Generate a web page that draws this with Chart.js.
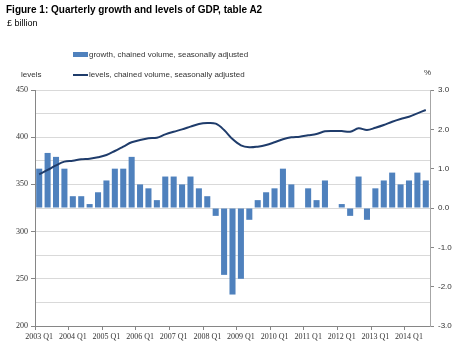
<!DOCTYPE html>
<html>
<head>
<meta charset="utf-8">
<script src="https://cdn.jsdelivr.net/npm/chart.js@4.4.1/dist/chart.umd.min.js"></script>
<style>
  body { margin: 0; background: #fff; }
  #wrap { position: relative; width: 460px; height: 353px; font-family: 'Liberation Sans', Arial, sans-serif; }
  #wrap canvas { position: absolute; left: 0; top: 0; }
  .txt { position: absolute; white-space: nowrap; color: #333; }
  .title { left: 6px; top: 4px; font-size: 10px; font-weight: bold; color: #000; line-height: 12px; }
  .unit { left: 7px; top: 18px; font-size: 9px; color: #000; line-height: 11px; }
  .leg { font-size: 8px; line-height: 10px; }
  .sw { position: absolute; }
</style>
</head>
<body>
<div id="wrap">
  <canvas id="gdpChart" width="460" height="353"></canvas>
  <div class="txt title">Figure 1: Quarterly growth and levels of GDP, table A2</div>
  <div class="txt unit">£ billion</div>
  <div class="sw" style="left:73px;top:52px;width:15px;height:5px;background:#4f81bd"></div>
  <div class="txt leg" style="left:89px;top:50px">growth, chained volume, seasonally adjusted</div>
  <div class="sw" style="left:73px;top:74px;width:15px;height:2px;background:#1f3c6b"></div>
  <div class="txt leg" style="left:89px;top:70px">levels, chained volume, seasonally adjusted</div>
  <div class="txt leg" style="left:21px;top:70px">levels</div>
  <div class="txt leg" style="left:424px;top:68px">%</div>
</div>
<script>
// categories: 2003 Q1 .. 2014 Q3
const years = [2003, 2004, 2005, 2006, 2007, 2008, 2009, 2010, 2011, 2012, 2013, 2014];
const quarters = ['Q1', 'Q2', 'Q3', 'Q4'];
const nQuarters = 47;

const labels = [];
years.forEach(y => quarters.forEach(q => labels.push(y + ' ' + q)));
labels.length = nQuarters;

// quarter on quarter growth, % (right axis)
const growth = [
  1.0, 1.4, 1.3, 1.0,
  0.3, 0.3, 0.1, 0.4,
  0.7, 1.0, 1.0, 1.3,
  0.6, 0.5, 0.2, 0.8,
  0.8, 0.6, 0.8, 0.5,
  0.3, -0.2, -1.7, -2.2,
  -1.8, -0.3, 0.2, 0.4,
  0.5, 1.0, 0.6, 0.0,
  0.5, 0.2, 0.7, 0.0,
  0.1, -0.2, 0.8, -0.3,
  0.5, 0.7, 0.9, 0.6,
  0.7, 0.9, 0.7
];

// levels, £ billion (left axis)
const levels = [
  360.7, 365.3, 370.2, 374.1,
  375.1, 376.6, 377.2, 378.7,
  381.1, 385.4, 390.0, 394.6,
  397.0, 398.8, 399.5, 403.0,
  405.8, 408.3, 411.2, 414.0,
  415.0, 414.3, 407.6, 398.0,
  391.4, 389.3, 390.0, 391.7,
  394.6, 397.8, 399.9, 400.6,
  402.0, 403.4, 406.2, 406.6,
  406.6, 405.8, 409.4, 407.6,
  410.0, 412.9, 416.4, 419.3,
  421.7, 425.3, 428.8
];

const leftTicks = [200, 250, 300, 350, 400, 450];
const rightTicks = [-3, -2, -1, 0, 1, 2, 3];

const axisGrey = '#868686';
const serif = { family: 'Liberation Serif', size: 8 };

const ctx = document.getElementById('gdpChart').getContext('2d');
new Chart(ctx, {
  data: {
    labels: labels,
    datasets: [
      {
        type: 'line',
        label: 'levels, chained volume, seasonally adjusted',
        data: levels,
        yAxisID: 'y',
        borderColor: '#1f3c6b',
        borderWidth: 2,
        pointRadius: 0,
        tension: 0.35,
        order: 1
      },
      {
        type: 'bar',
        label: 'growth, chained volume, seasonally adjusted',
        data: growth,
        yAxisID: 'y2',
        backgroundColor: '#4f81bd',
        barPercentage: 0.72,
        categoryPercentage: 1,
        order: 2
      }
    ]
  },
  options: {
    responsive: false,
    animation: false,
    layout: { padding: { top: 90, left: 0, right: 0, bottom: 0 } },
    plugins: { legend: { display: false }, tooltip: { enabled: false } },
    scales: {
      x: {
        type: 'category',
        offset: true,
        grid: {
          offset: true,
          drawOnChartArea: false,
          tickLength: 4,
          color: c => (c.index % 4 === 0 ? axisGrey : 'rgba(0,0,0,0)'),
          tickColor: c => (c.index % 4 === 0 ? axisGrey : 'rgba(0,0,0,0)')
        },
        border: { color: axisGrey },
        ticks: {
          autoSkip: false,
          maxRotation: 0,
          minRotation: 0,
          padding: 2,
          font: serif,
          color: '#333',
          callback: (v, i) => (i % 4 === 0 ? labels[i] : '')
        },
        afterFit(s) { s.height = 27; }
      },
      y: {
        position: 'left',
        min: leftTicks[0],
        max: leftTicks[leftTicks.length - 1],
        ticks: {
          stepSize: 25,
          autoSkip: false,
          padding: 3,
          font: serif,
          color: '#333',
          callback: v => (leftTicks.includes(v) ? v : '')
        },
        grid: {
          color: '#d9d9d9',
          lineWidth: 1,
          tickLength: 4,
          tickColor: c => (c.tick && leftTicks.includes(c.tick.value) ? axisGrey : 'rgba(0,0,0,0)')
        },
        border: { color: axisGrey },
        afterFit(s) { s.width = 35; }
      },
      y2: {
        position: 'right',
        min: rightTicks[0],
        max: rightTicks[rightTicks.length - 1],
        ticks: {
          stepSize: 1,
          autoSkip: false,
          padding: 4,
          font: { family: 'Liberation Sans', size: 8 },
          color: '#333',
          callback: v => v.toFixed(1)
        },
        grid: { drawOnChartArea: false, tickLength: 4, tickColor: axisGrey },
        border: { color: '#a6a6a6' },
        afterFit(s) { s.width = 30; }
      }
    }
  }
});
</script>
</body>
</html>
